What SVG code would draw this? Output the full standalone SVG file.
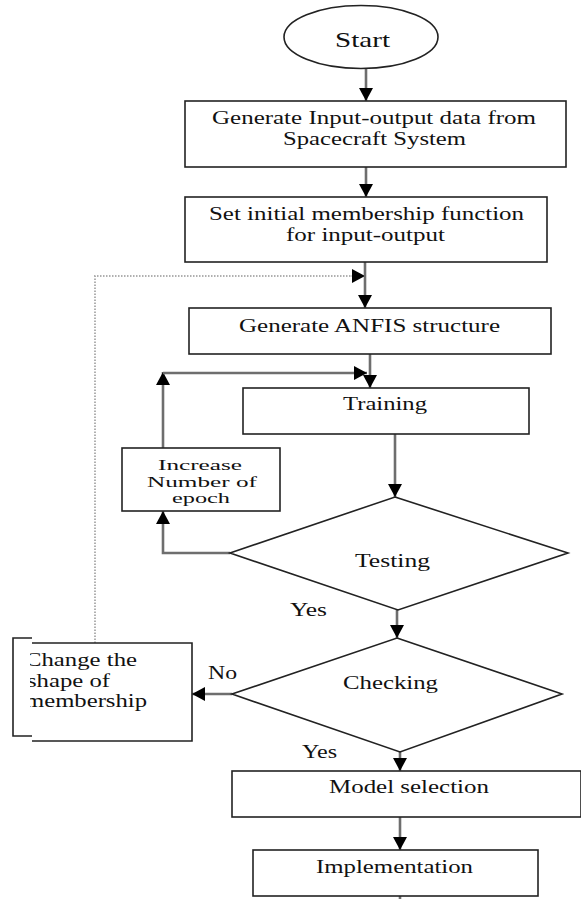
<svg xmlns="http://www.w3.org/2000/svg" width="581" height="899" viewBox="0 0 581 899">
<style>
.box{fill:#fff;stroke:#222;stroke-width:1.6}
.line{fill:none;stroke:#6e6e6e;stroke-width:2.6}
.dot{fill:none;stroke:#b0b0b0;stroke-width:2;stroke-dasharray:1.5 1.5}
text{font-family:"Liberation Serif","Times New Roman",serif;font-size:18px;fill:#111}
.c{text-anchor:middle}
.sm{font-size:15px}
</style>
<defs>
<marker id="ah" viewBox="0 0 13 14" refX="13" refY="7" markerWidth="13" markerHeight="14" markerUnits="userSpaceOnUse" orient="auto"><path d="M0,0 L13,7 L0,14 z" fill="#000"/></marker>
<clipPath id="clipChange"><rect x="30" y="640" width="165" height="105"/></clipPath>
<clipPath id="clipInc"><rect x="120" y="446" width="165" height="60"/></clipPath>
</defs>

<g id="connectors">
<line class="line" x1="366" y1="68" x2="366" y2="101" marker-end="url(#ah)"/>
<line class="line" x1="366" y1="167" x2="366" y2="197" marker-end="url(#ah)"/>
<line class="line" x1="365" y1="262" x2="365" y2="308" marker-end="url(#ah)"/>
<polyline class="dot" points="95,643 95,276 350,276"/>
<line x1="349" y1="276" x2="365" y2="276" stroke="#b0b0b0" stroke-width="1" marker-end="url(#ah)"/>
<line class="line" x1="370" y1="354" x2="370" y2="388" marker-end="url(#ah)"/>
<line class="line" x1="163" y1="448" x2="163" y2="372" marker-end="url(#ah)"/>
<line class="line" x1="163" y1="373" x2="367" y2="373" marker-end="url(#ah)"/>
<line class="line" x1="395" y1="434" x2="395" y2="497" marker-end="url(#ah)"/>
<polyline class="line" points="230,553 163,553 163,511" marker-end="url(#ah)"/>
<line class="line" x1="397" y1="610" x2="397" y2="638" marker-end="url(#ah)"/>
<line class="line" x1="232" y1="694" x2="192" y2="694" marker-end="url(#ah)"/>
<line class="line" x1="400" y1="738" x2="400" y2="771" marker-end="url(#ah)"/>
<line class="line" x1="400" y1="817" x2="400" y2="850" marker-end="url(#ah)"/>
<line class="line" x1="400" y1="896" x2="400" y2="899"/>
<text x="290" y="616" textLength="37" lengthAdjust="spacingAndGlyphs">Yes</text>
<text x="208" y="679" textLength="29" lengthAdjust="spacingAndGlyphs">No</text>
<text x="302" y="758" textLength="35" lengthAdjust="spacingAndGlyphs">Yes</text>
</g>

<g id="start">
<ellipse class="box" cx="361" cy="37" rx="77" ry="31.5"/>
<text class="c" x="362.5" y="47" style="font-size:21px" textLength="55" lengthAdjust="spacingAndGlyphs">Start</text>
</g>

<g id="generate-data">
<rect class="box" x="185" y="101" width="381" height="66"/>
<text class="c" x="374" y="124" textLength="324" lengthAdjust="spacingAndGlyphs">Generate Input-output data from</text>
<text class="c" x="374.5" y="145" textLength="183" lengthAdjust="spacingAndGlyphs">Spacecraft System</text>
</g>

<g id="set-membership">
<rect class="box" x="185" y="197" width="362" height="65"/>
<text class="c" x="366.5" y="220" textLength="315" lengthAdjust="spacingAndGlyphs">Set initial membership function</text>
<text class="c" x="365.5" y="241" textLength="159" lengthAdjust="spacingAndGlyphs">for input-output</text>
</g>

<g id="generate-anfis">
<rect class="box" x="189" y="308" width="362" height="46"/>
<text class="c" x="369.5" y="332" textLength="261" lengthAdjust="spacingAndGlyphs">Generate ANFIS structure</text>
</g>

<g id="training">
<rect class="box" x="243" y="388" width="286" height="46"/>
<text class="c" x="385" y="410" textLength="84" lengthAdjust="spacingAndGlyphs">Training</text>
</g>

<g id="increase-epoch">
<rect class="box" x="122" y="448" width="158" height="63"/>
<g clip-path="url(#clipInc)">
<text class="c sm" x="200" y="470" textLength="84" lengthAdjust="spacingAndGlyphs">Increase</text>
<text class="c sm" x="202" y="487" textLength="110" lengthAdjust="spacingAndGlyphs">Number of</text>
<text class="c sm" x="201" y="503" textLength="58" lengthAdjust="spacingAndGlyphs">epoch</text>
</g>
</g>

<g id="testing">
<polygon class="box" points="395,497 568,553 398,610 230,553"/>
<text class="c" x="392.5" y="567" textLength="75" lengthAdjust="spacingAndGlyphs">Testing</text>
</g>

<g id="checking">
<polygon class="box" points="397,638 562,694 400,752 232,694"/>
<text class="c" x="390.5" y="689" textLength="95" lengthAdjust="spacingAndGlyphs">Checking</text>
</g>

<g id="change-shape">
<path d="M32,638 H13 V736 H32" fill="none" stroke="#222" stroke-width="1.6"/>
<path d="M32,643 H192 V741 H32" fill="none" stroke="#222" stroke-width="1.6"/>
<g clip-path="url(#clipChange)">
<text x="25" y="666" textLength="112" lengthAdjust="spacingAndGlyphs">Change the</text>
<text x="27" y="687" textLength="83" lengthAdjust="spacingAndGlyphs">shape of</text>
<text x="25" y="707" textLength="122" lengthAdjust="spacingAndGlyphs">membership</text>
</g>
</g>

<g id="model-selection">
<rect class="box" x="232" y="771" width="349" height="46"/>
<text class="c" x="409" y="793" textLength="160" lengthAdjust="spacingAndGlyphs">Model selection</text>
</g>

<g id="implementation">
<rect class="box" x="253" y="850" width="285" height="46"/>
<text class="c" x="394.5" y="873" textLength="157" lengthAdjust="spacingAndGlyphs">Implementation</text>
</g>
</svg>
